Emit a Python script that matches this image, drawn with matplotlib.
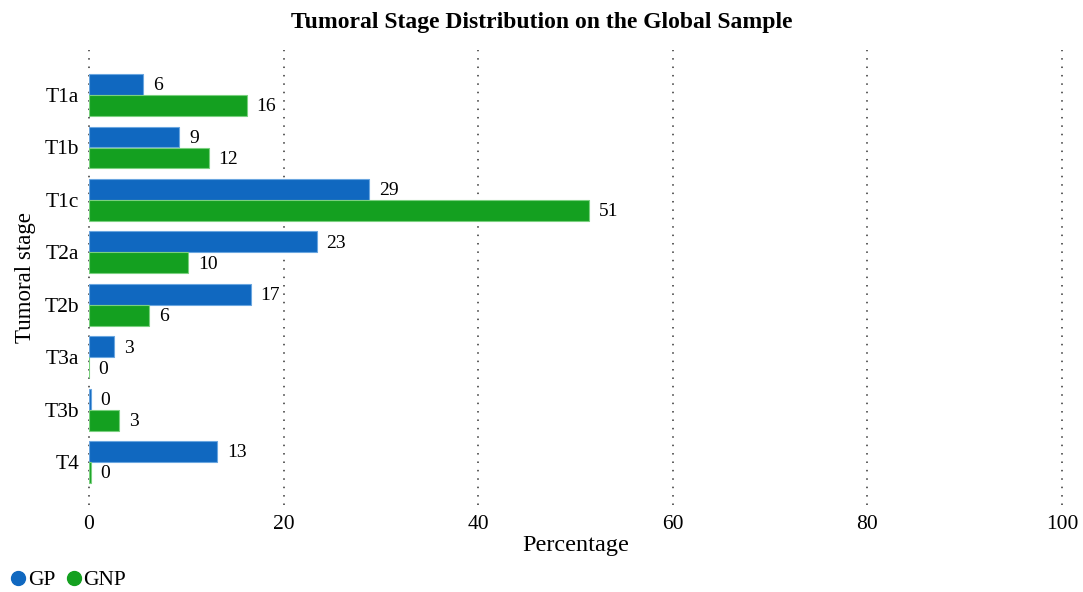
import matplotlib.pyplot as plt
from matplotlib.lines import Line2D
import numpy as np

plt.rcParams['font.family'] = ['Liberation Serif', 'DejaVu Serif']

stages = ['T1a', 'T1b', 'T1c', 'T2a', 'T2b', 'T3a', 'T3b', 'T4']
gp = [5.6, 9.3, 28.8, 23.4, 16.6, 2.6, 0.2, 13.2]
gnp = [16.2, 12.3, 51.4, 10.2, 6.2, 0.0, 3.1, 0.2]

blue = '#1068c0'
green = '#14a020'

fig = plt.figure(figsize=(10.83, 5.92), dpi=100)
ax = fig.add_axes([89 / 1083, 1 - 505 / 592, (1062 - 89) / 1083, (505 - 50) / 592])

y = np.arange(len(stages))
h = 0.4
ax.barh(y - h / 2, gp, height=h, color=blue, edgecolor='#6aa6e0', linewidth=0.8, zorder=3)
ax.barh(y + h / 2, gnp, height=h, color=green, edgecolor='#7ad07f', linewidth=0.8, zorder=3)

# value labels right of each bar
for i in range(len(stages)):
    ax.annotate(f'{gp[i]:.0f}', (gp[i], y[i] - h / 2), xytext=(7, -1),
                textcoords='offset points', va='center', ha='left', fontsize=14)
    ax.annotate(f'{gnp[i]:.0f}', (gnp[i], y[i] + h / 2), xytext=(7, -1),
                textcoords='offset points', va='center', ha='left', fontsize=14)

ax.set_xlim(0, 100)
ax.set_ylim(7.82, -0.86)
ax.set_yticks(y)
ax.set_yticklabels(stages, fontsize=15.5)
ax.set_xticks([0, 20, 40, 60, 80, 100])
ax.tick_params(axis='both', length=0)
ax.tick_params(axis='x', pad=7, labelsize=15.5)
ax.tick_params(axis='y', pad=7)
for s in ax.spines.values():
    s.set_visible(False)
ax.grid(axis='x', linestyle=(0, (1, 4.5)), color='#333333', linewidth=1.1, zorder=0)
for gl in ax.get_xgridlines():
    gl.set_clip_on(False)

ax.set_xlabel('Percentage', fontsize=17.5, labelpad=1)
ax.set_ylabel('Tumoral stage', fontsize=16.5, labelpad=6)
fig.suptitle('Tumoral Stage Distribution on the Global Sample', fontsize=17,
             fontweight='bold', y=0.98)

handles = [Line2D([], [], marker='o', linestyle='', color=blue, markersize=10),
           Line2D([], [], marker='o', linestyle='', color=green, markersize=10)]
fig.legend(handles, ['GP', 'GNP'], loc='lower left', bbox_to_anchor=(-0.011, -0.03),
           ncol=2, frameon=False, fontsize=15.5, handletextpad=-0.05, columnspacing=0.35,
           handlelength=1.0)

fig.savefig('out.png', dpi=100)
